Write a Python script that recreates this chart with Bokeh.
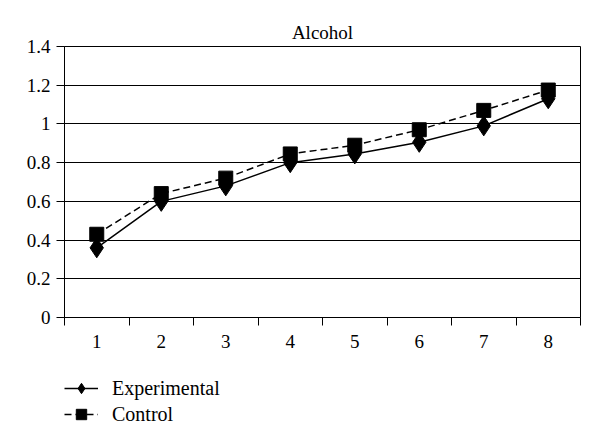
from bokeh.plotting import figure
from bokeh.layouts import column
from bokeh.models import FixedTicker, Legend, LegendItem, Range1d
from bokeh.embed import file_html
from bokeh.resources import INLINE

title_text = "Alcohol"
x_labels = ["1", "2", "3", "4", "5", "6", "7", "8"]
experimental = [0.36, 0.60, 0.68, 0.80, 0.845, 0.905, 0.99, 1.13]
control = [0.43, 0.64, 0.72, 0.845, 0.89, 0.97, 1.07, 1.175]
y_ticks = [0, 0.2, 0.4, 0.6, 0.8, 1.0, 1.2, 1.4]
series_names = ["Experimental", "Control"]

FONT = "Liberation Serif"
xs = list(range(1, len(x_labels) + 1))

p = figure(frame_width=516, frame_height=271, output_backend="svg", toolbar_location=None,
           x_range=Range1d(0.5, len(x_labels) + 0.5), y_range=Range1d(0, 1.4),
           min_border_left=64, min_border_right=12, min_border_top=46, min_border_bottom=42)

p.title.text = title_text
p.title.align = "center"
p.title.text_font = FONT
p.title.text_font_size = "19px"
p.title.text_font_style = "normal"
p.title.text_color = "black"
p.title.standoff = 7

p.outline_line_color = "black"
p.outline_line_width = 1
p.background_fill_color = "white"
p.border_fill_color = "white"

# x axis
p.xaxis.ticker = FixedTicker(ticks=xs, minor_ticks=[i + 0.5 for i in range(0, len(x_labels) + 1)])
p.xaxis.major_label_overrides = {x: l for x, l in zip(xs, x_labels)}
p.xaxis.major_tick_out = 0
p.xaxis.major_tick_in = 0
p.xaxis.minor_tick_out = 8
p.xaxis.minor_tick_in = 0
p.xaxis.minor_tick_line_color = "black"
p.xaxis.axis_line_color = "black"
p.xaxis.major_label_text_font = FONT
p.xaxis.major_label_text_font_size = "19px"
p.xaxis.major_label_text_color = "black"
p.xaxis.major_label_standoff = 9

# y axis
p.yaxis.ticker = FixedTicker(ticks=y_ticks)
p.yaxis.major_label_overrides = {0: "0", 1.0: "1"}
p.yaxis.minor_tick_line_color = None
p.yaxis.major_tick_out = 8
p.yaxis.major_tick_in = 0
p.yaxis.major_tick_line_color = "black"
p.yaxis.axis_line_color = "black"
p.yaxis.major_label_text_font = FONT
p.yaxis.major_label_text_font_size = "19px"
p.yaxis.major_label_text_color = "black"
p.yaxis.major_label_standoff = 6

p.xgrid.grid_line_color = None
p.ygrid.ticker = FixedTicker(ticks=y_ticks)
p.ygrid.grid_line_color = "black"
p.ygrid.grid_line_width = 1
p.ygrid.grid_line_alpha = 1

p.line(xs, experimental, line_color="black", line_width=1.5)
p.scatter(xs, experimental, marker="diamond", size=20, fill_color="black", line_color="black")
p.line(xs, control, line_color="black", line_width=1.5, line_dash="7 4")
p.scatter(xs, control, marker="square", size=14, fill_color="black", line_color="black")

# legend strip below the chart (its view range keeps the series out of sight;
# the renderers only feed the legend glyphs)
q = figure(frame_width=516, frame_height=62, output_backend="svg", toolbar_location=None,
           x_axis_type=None, y_axis_type=None,
           x_range=Range1d(-20, -19), y_range=Range1d(-20, -19),
           min_border_left=64, min_border_right=12, min_border_top=16, min_border_bottom=0)
q.outline_line_color = None
q.xgrid.grid_line_color = None
q.ygrid.grid_line_color = None
q.background_fill_color = "white"
q.border_fill_color = "white"

e_l = q.line(xs, experimental, line_color="black", line_width=1.5)
e_m = q.scatter(xs, experimental, marker="diamond", size=20, fill_color="black", line_color="black")
c_l = q.line(xs, control, line_color="black", line_width=1.5, line_dash="7 4")
c_m = q.scatter(xs, control, marker="square", size=14, fill_color="black", line_color="black")

legend = Legend(items=[LegendItem(label=series_names[0], renderers=[e_l, e_m]),
                       LegendItem(label=series_names[1], renderers=[c_l, c_m])],
                location="top_left", orientation="vertical",
                glyph_width=34, glyph_height=26, label_height=26, label_standoff=14,
                spacing=0, padding=0, margin=0,
                border_line_color=None, background_fill_alpha=0,
                label_text_font=FONT, label_text_font_size="20px", label_text_color="black")
q.add_layout(legend)

layout = column(p, q, spacing=0)
open("out.html", "w").write(file_html(layout, INLINE))
